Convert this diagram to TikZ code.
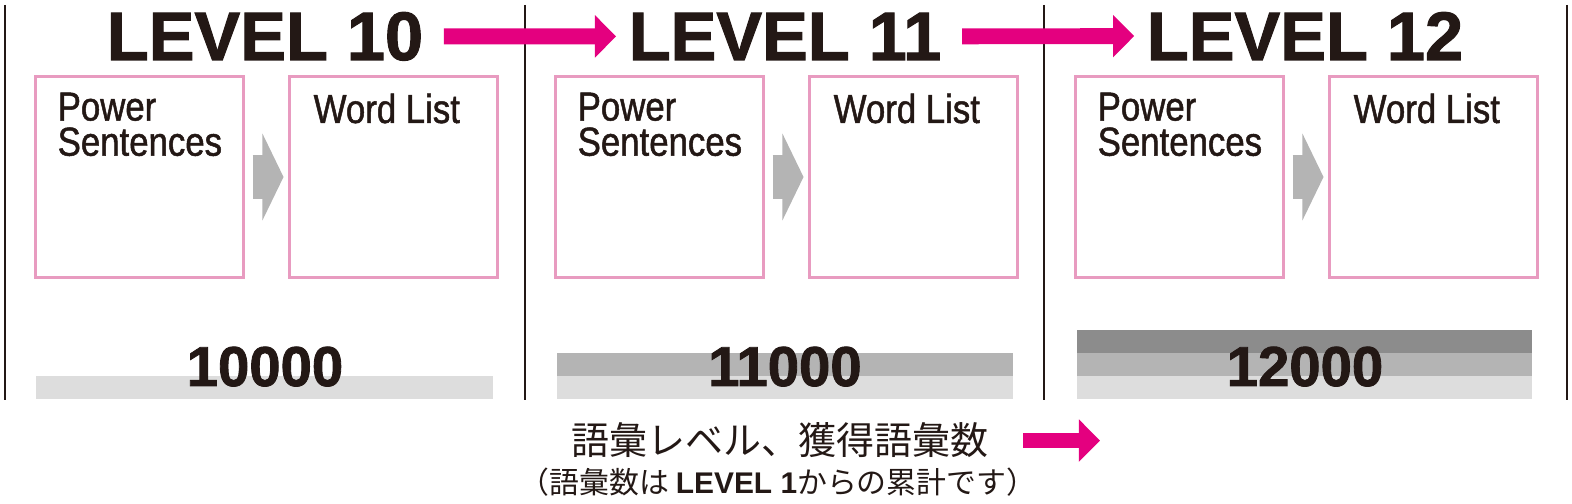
\documentclass[tikz,border=0pt]{standalone}
\usepackage{fontspec}
\setmainfont{Liberation Sans}
\newfontfamily\heavyfont[FakeBold=1.5]{Liberation Sans Bold}
\newfontfamily\condfont[FakeStretch=0.86, FakeBold=1.2]{Liberation Sans}
\newfontfamily\jpfont{Noto Sans CJK JP}
\usepackage{tikz}
\usetikzlibrary{arrows.meta, positioning, calc}
\usepackage{xcolor}
\definecolor{inkblack}{RGB}{35, 24, 21}
\definecolor{levelpink}{RGB}{228, 0, 127}
\definecolor{boxpink}{RGB}{232, 155, 192}
\definecolor{stepgray}{RGB}{180, 180, 180}
\definecolor{barlight}{RGB}{221, 221, 221}
\definecolor{barmid}{RGB}{180, 180, 180}
\definecolor{bardark}{RGB}{140, 140, 140}

\begin{document}
\begin{tikzpicture}[x=0.01cm, y=-0.01cm,
    pinkbox/.style={draw=boxpink, line width=0.85pt, minimum width=2.07cm, minimum height=2cm, inner sep=0pt},
    lvtext/.style={font=\heavyfont\fontsize{19.5}{20}\selectfont, text=inkblack, inner sep=0pt, anchor=base},
    numtext/.style={font=\heavyfont\fontsize{16}{17}\selectfont, text=inkblack, inner sep=0pt, anchor=base},
    boxtext/.style={font=\condfont\fontsize{11.5}{10}\selectfont, text=inkblack, inner sep=0pt, align=left},
    flowarrow/.style={draw=levelpink, line width=4.5pt, -{Triangle[length=6pt, width=11.7pt]}},
    steparrow/.style={draw=stepgray, line width=12.5pt, -{Triangle[length=6pt, width=24.5pt]}}]

  \useasboundingbox (0,0) rectangle (1572,504);

  % Column dividers
  \foreach \x in {5,525,1044,1567}{
    \draw[inkblack, line width=0.6pt] (\x,5) -- (\x,400);
  }

  % Count bars (one more band per level)
  \fill[barlight] (36,376) rectangle (493,399);
  \fill[barmid]   (557,353) rectangle (1013,376);
  \fill[barlight] (557,376) rectangle (1013,399);
  \fill[bardark]  (1077,330) rectangle (1532,353);
  \fill[barmid]   (1077,353) rectangle (1532,376);
  \fill[barlight] (1077,376) rectangle (1532,399);

  % Level columns
  \foreach \i/\o/\n/\w in {0/0/10/10000, 1/520/11/11000, 2/1040/12/12000}{
    \node[lvtext] (lv\i) at (265+\o,60) {LEVEL \n};
    \node[pinkbox] (ps\i) at (139.5+\o,177) {};
    \node[pinkbox] (wl\i) at (393.5+\o,177) {};
    \node[boxtext, anchor=north west] (pst\i) at (57+\o,92) {Power\\Sentences};
    \node[boxtext, anchor=base west] (wlt\i) at (313+\o,123) {Word List};
    \node[numtext] (cnt\i) at (265+\o,386) {\w};
    \draw[steparrow, shorten <=2.3pt, shorten >=1.4pt] (ps\i) -- (wl\i);
  }

  % Level to level
  \draw[flowarrow, shorten <=5.7pt, shorten >=3.4pt] (lv0.east) -- (lv1.west);
  \draw[flowarrow, shorten <=5.7pt, shorten >=3.4pt] (lv1.east) -- (lv2.west);

  % Legend
  \node[inner sep=0pt, anchor=base, text=inkblack, font=\jpfont\fontsize{10.8}{12}\selectfont]
    (note) at (780,455) {語彙レベル、獲得語彙数};
  \node[inner sep=0pt, anchor=base, text=inkblack, font=\jpfont\fontsize{8.5}{10}\selectfont]
    (subnote) at (778,494) {（語彙数は {\rmfamily\bfseries LEVEL 1}からの累計です）};
  \coordinate (noteend) at (1100,441);
  \draw[flowarrow, shorten <=9.5pt] (note.east) -- (note.east -| noteend);
\end{tikzpicture}
\end{document}
